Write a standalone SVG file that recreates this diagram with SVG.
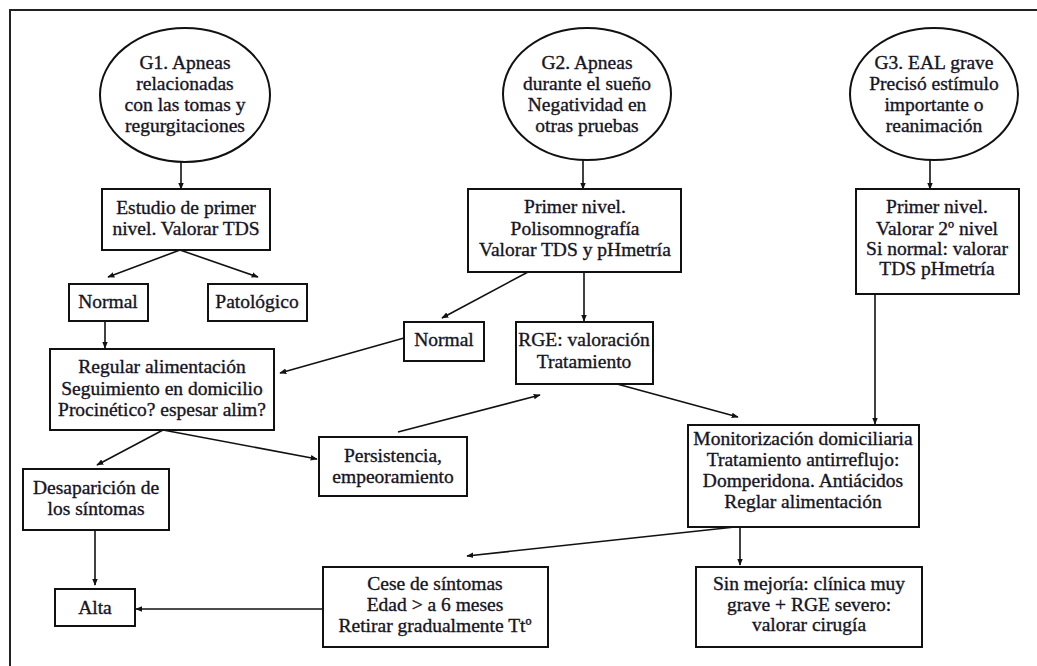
<svg xmlns="http://www.w3.org/2000/svg" width="1037" height="666" viewBox="0 0 1037 666">
<defs>
<marker id="ah" viewBox="0 0 10 10" refX="9" refY="5" markerWidth="7" markerHeight="7" orient="auto" markerUnits="userSpaceOnUse">
<path d="M0,1 L10,5 L0,9 Z" fill="#111"/>
</marker>
<style>
.n{fill:#fff;stroke:#111;stroke-width:2}
.t{font-family:"Liberation Serif",serif;font-size:19.5px;fill:#151525;stroke:#151525;stroke-width:0.35;text-anchor:middle}
.c{fill:none;stroke:#111;stroke-width:1.6;marker-end:url(#ah)}
.f{fill:none;stroke:#222;stroke-width:2}
</style>
</defs>
<rect width="1037" height="666" fill="#fff"/>
<path class="f" d="M10,666 V10 H1037"/>
<g id="connectors">
<path class="c" d="M181,162 V189"/>
<path class="c" d="M180,250 L108,277"/>
<path class="c" d="M180,250 L258,277"/>
<path class="c" d="M105,321 V348"/>
<path class="c" d="M583,160 V189"/>
<path class="c" d="M528,272 L442,318"/>
<path class="c" d="M584,272 V321"/>
<path class="c" d="M404,338 L280,373"/>
<path class="c" d="M617,384 L738,417"/>
<path class="c" d="M398,432 L540,395"/>
<path class="c" d="M930,160 V189"/>
<path class="c" d="M875,294 V424"/>
<path class="c" d="M163,430 L97,465"/>
<path class="c" d="M163,430 L317,459"/>
<path class="c" d="M95,530 V585"/>
<path class="c" d="M323,609 H136"/>
<path class="c" d="M735,527 L467,556"/>
<path class="c" d="M740,527 V565"/>
</g>
<g id="g1">
<ellipse class="n" cx="185" cy="95" rx="85" ry="67"/>
<text class="t" x="185" y="69">G1. Apneas</text>
<text class="t" x="185" y="90">relacionadas</text>
<text class="t" x="185" y="111">con las tomas y</text>
<text class="t" x="185" y="132">regurgitaciones</text>
</g>
<g id="g2">
<ellipse class="n" cx="587" cy="94" rx="84" ry="66"/>
<text class="t" x="587" y="69">G2. Apneas</text>
<text class="t" x="587" y="90">durante el sueño</text>
<text class="t" x="587" y="111">Negatividad en</text>
<text class="t" x="587" y="132">otras pruebas</text>
</g>
<g id="g3">
<ellipse class="n" cx="934" cy="94" rx="84" ry="66"/>
<text class="t" x="934" y="69">G3. EAL grave</text>
<text class="t" x="934" y="90">Precisó estímulo</text>
<text class="t" x="934" y="111">importante o</text>
<text class="t" x="934" y="132">reanimación</text>
</g>
<g id="estudio">
<rect class="n" x="102" y="189" width="168" height="61"/>
<text class="t" x="186" y="214">Estudio de primer</text>
<text class="t" x="186" y="235">nivel. Valorar TDS</text>
</g>
<g id="normal1">
<rect class="n" x="69" y="284" width="79" height="37"/>
<text class="t" x="108" y="308">Normal</text>
</g>
<g id="patologico">
<rect class="n" x="208" y="284" width="99" height="37"/>
<text class="t" x="257" y="308">Patológico</text>
</g>
<g id="regular">
<rect class="n" x="50" y="349" width="224" height="81"/>
<text class="t" x="162" y="373">Regular alimentación</text>
<text class="t" x="162" y="395">Seguimiento en domicilio</text>
<text class="t" x="162" y="416">Procinético? espesar alim?</text>
</g>
<g id="primer2">
<rect class="n" x="468" y="189" width="213" height="83"/>
<text class="t" x="575" y="213">Primer nivel.</text>
<text class="t" x="575" y="235">Polisomnografía</text>
<text class="t" x="575" y="256">Valorar TDS y pHmetría</text>
</g>
<g id="normal2">
<rect class="n" x="404" y="322" width="80" height="39"/>
<text class="t" x="444" y="346">Normal</text>
</g>
<g id="rge">
<rect class="n" x="516" y="322" width="137" height="62"/>
<text class="t" x="584" y="346">RGE: valoración</text>
<text class="t" x="584" y="368">Tratamiento</text>
</g>
<g id="primer3">
<rect class="n" x="856" y="189" width="163" height="105"/>
<text class="t" x="937" y="213">Primer nivel.</text>
<text class="t" x="937" y="235">Valorar 2º nivel</text>
<text class="t" x="937" y="255">Si normal: valorar</text>
<text class="t" x="937" y="275">TDS pHmetría</text>
</g>
<g id="monit">
<rect class="n" x="688" y="425" width="231" height="102"/>
<text class="t" x="803" y="445">Monitorización domiciliaria</text>
<text class="t" x="803" y="466">Tratamiento antirreflujo:</text>
<text class="t" x="803" y="487">Domperidona. Antiácidos</text>
<text class="t" x="803" y="508">Reglar alimentación</text>
</g>
<g id="persistencia">
<rect class="n" x="319" y="437" width="148" height="59"/>
<text class="t" x="393" y="462">Persistencia,</text>
<text class="t" x="393" y="483">empeoramiento</text>
</g>
<g id="desaparicion">
<rect class="n" x="23" y="469" width="146" height="61"/>
<text class="t" x="96" y="494">Desaparición de</text>
<text class="t" x="96" y="515">los síntomas</text>
</g>
<g id="alta">
<rect class="n" x="55" y="589" width="80" height="37"/>
<text class="t" x="95" y="614">Alta</text>
</g>
<g id="cese">
<rect class="n" x="323" y="567" width="225" height="80"/>
<text class="t" x="435" y="590">Cese de síntomas</text>
<text class="t" x="435" y="611">Edad &gt; a 6 meses</text>
<text class="t" x="435" y="632">Retirar gradualmente Ttº</text>
</g>
<g id="sinmejoria">
<rect class="n" x="696" y="567" width="226" height="80"/>
<text class="t" x="809" y="590">Sin mejoría: clínica muy</text>
<text class="t" x="809" y="611">grave + RGE severo:</text>
<text class="t" x="809" y="631">valorar cirugía</text>
</g>
</svg>
